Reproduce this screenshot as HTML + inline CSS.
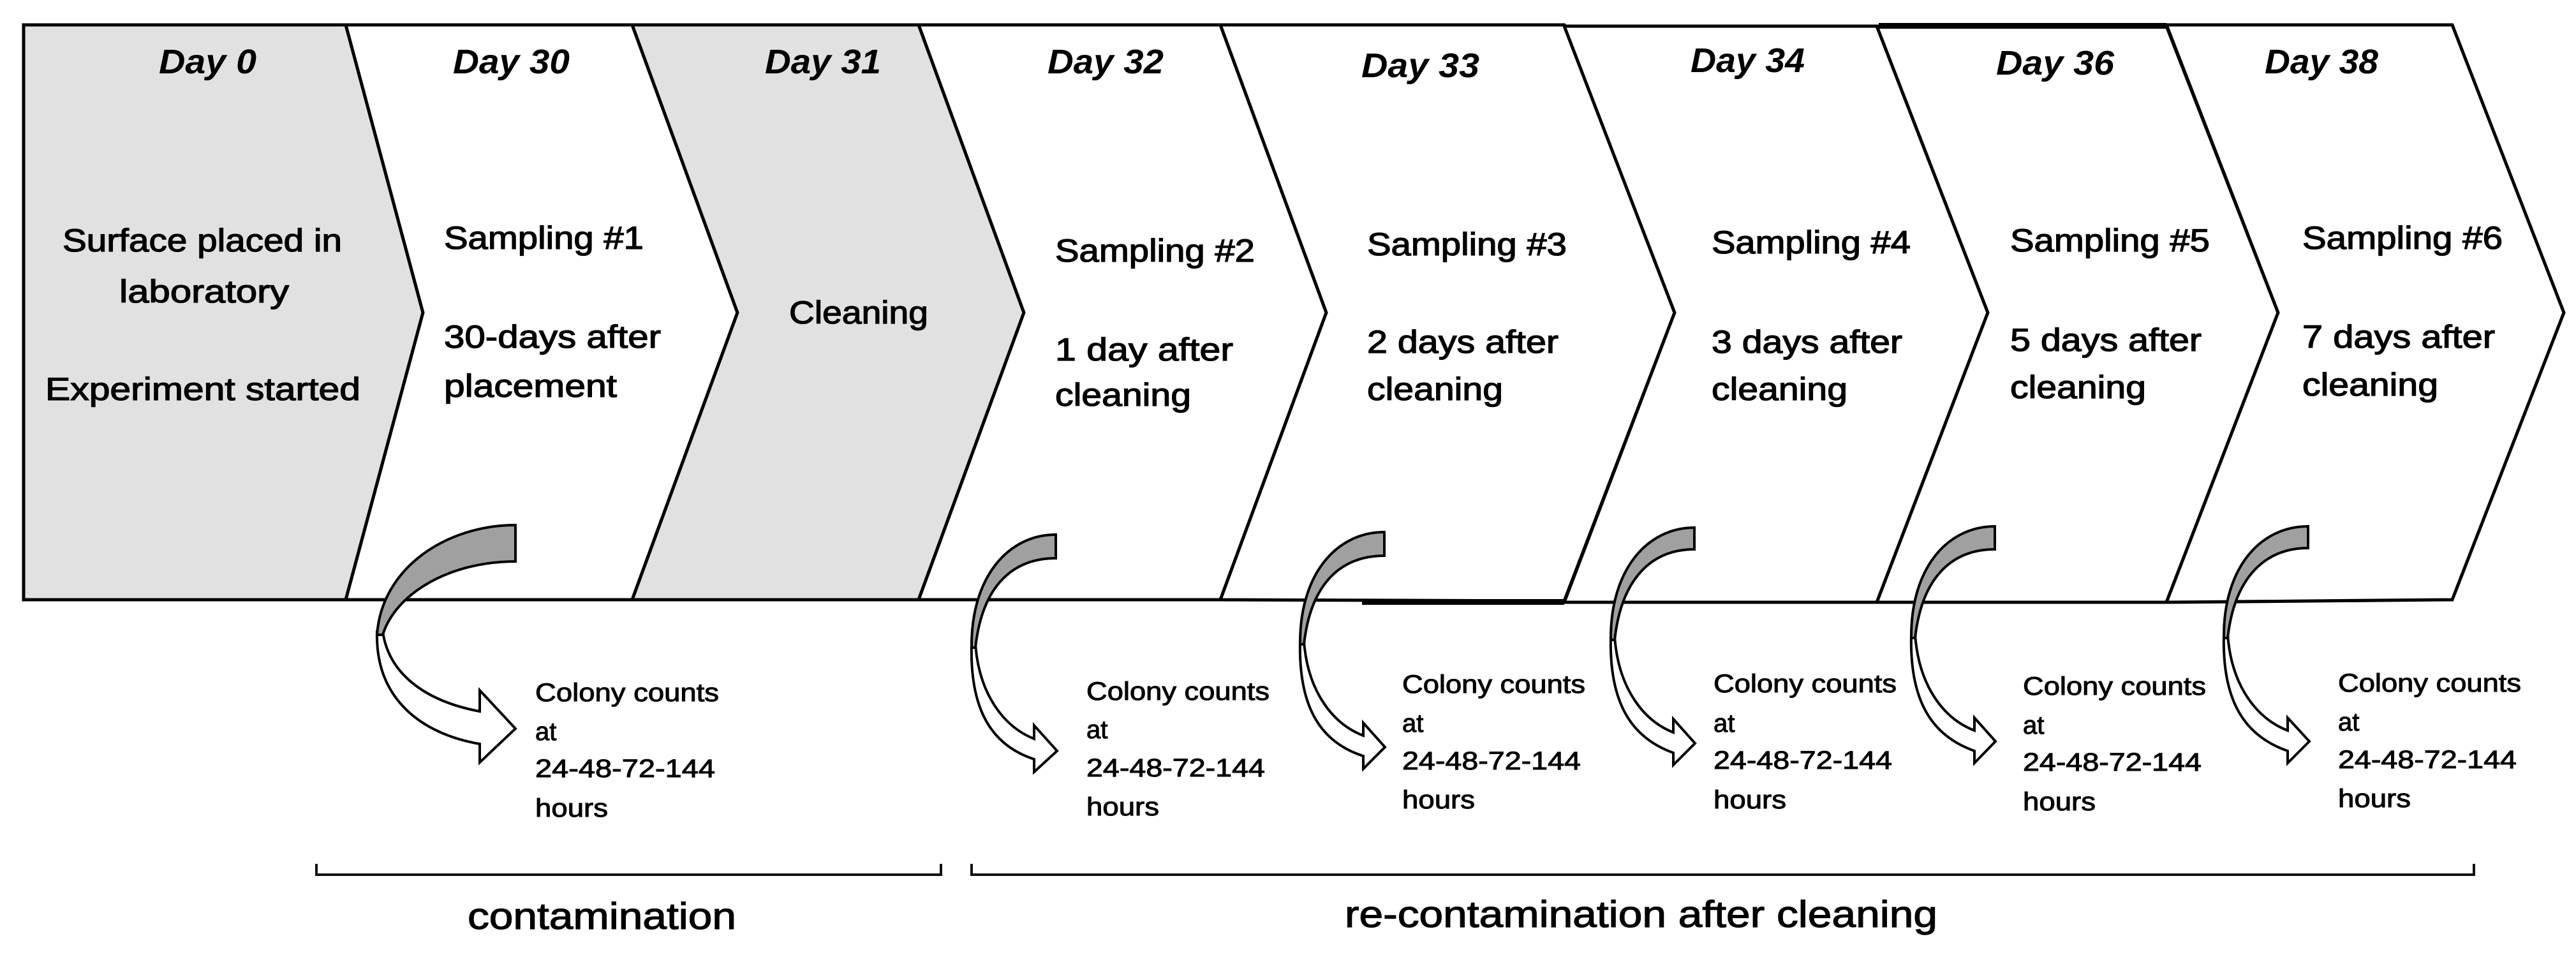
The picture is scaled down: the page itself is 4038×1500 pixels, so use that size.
<!DOCTYPE html>
<html><head><meta charset="utf-8"><style>
html,body{margin:0;padding:0;background:#fff;}
svg{display:block;}
text{font-family:"Liberation Sans",sans-serif;fill:#000;}
.d{font-weight:bold;font-style:italic;font-size:54px;}
.b{font-size:50px;stroke:#000;stroke-width:1.3px;}
.c{font-size:40px;stroke:#000;stroke-width:1px;}
.t{font-size:58px;stroke:#000;stroke-width:1.2px;}
</style></head><body>
<svg width="4038" height="1500" viewBox="0 0 4038 1500" xmlns="http://www.w3.org/2000/svg">
<g stroke="#000" stroke-width="5" stroke-linejoin="miter">
<polygon fill="#e1e1e1" points="37,39 542,39 663,490 542,940 37,940"/>
<polygon fill="#fff" points="542,39 991,39 1156,490 991,940 542,940 663,490"/>
<polygon fill="#e1e1e1" points="991,39 1440,39 1605,490 1440,940 991,940 1156,490"/>
<polygon fill="#fff" points="1440,39 1913,39 2079,490 1913,940 1440,940 1605,490"/>
<polygon fill="#fff" points="1913,39 2452,39 2625,490 2452,942 1913,940 2079,490"/>
<polygon fill="#fff" points="2452,41 2942,41 3116,490 2942,944 2452,944 2625,490"/>
<polygon fill="#fff" points="2942,41 3396,41 3571,490 3396,944 2942,944 3116,490"/>
<polygon fill="#fff" points="3396,39 3844,39 4019,490 3844,940 3396,944 3571,490"/>
</g>
<rect x="2135" y="939" width="317" height="9" fill="#000"/>
<rect x="2945" y="36" width="451" height="9" fill="#000"/>

<g id="arrows" stroke="#000" stroke-width="4" stroke-linejoin="miter">
<path fill="#fff" d="M591,990 C588,1095 660,1150 752,1166 L752,1195 L808,1142 L752,1082 L752,1115 C672,1100 610,1060 600,990 Z"/>
<path fill="#a0a0a0" d="M808,823 L808,880 C705,880 620,930 600,995 L591,995 C598,890 700,823 808,823 Z"/>

<path fill="#fff" d="M1523,1010 C1520,1120 1560,1170 1621,1190 L1621,1210 L1657,1177 L1621,1137 L1621,1158 C1575,1140 1535,1090 1529,1010 Z"/>
<path fill="#a0a0a0" d="M1655,838 L1655,875 C1590,875 1540,915 1529,1015 L1523,1015 C1522,905 1580,838 1655,838 Z"/>

<path fill="#fff" d="M2038,1005 C2035,1115 2075,1165 2137,1185 L2137,1205 L2171,1171 L2137,1133 L2137,1153 C2090,1135 2050,1085 2044,1005 Z"/>
<path fill="#a0a0a0" d="M2170,834 L2170,871 C2105,871 2055,911 2044,1010 L2038,1010 C2037,900 2095,834 2170,834 Z"/>

<path fill="#fff" d="M2525,998 C2522,1108 2562,1158 2623,1180 L2623,1199 L2657,1165 L2623,1127 L2623,1148 C2577,1130 2537,1080 2531,998 Z"/>
<path fill="#a0a0a0" d="M2656,827 L2656,861 C2592,861 2542,903 2531,1003 L2525,1003 C2524,893 2582,827 2656,827 Z"/>

<path fill="#fff" d="M2996,995 C2993,1105 3033,1155 3095,1177 L3095,1196 L3128,1162 L3095,1125 L3095,1145 C3048,1127 3008,1077 3002,995 Z"/>
<path fill="#a0a0a0" d="M3127,825 L3127,861 C3063,861 3013,901 3002,1000 L2996,1000 C2995,890 3053,825 3127,825 Z"/>

<path fill="#fff" d="M3486,995 C3483,1105 3523,1155 3586,1177 L3586,1196 L3620,1162 L3586,1125 L3586,1145 C3539,1127 3498,1077 3492,995 Z"/>
<path fill="#a0a0a0" d="M3618,825 L3618,859 C3554,859 3503,901 3492,1000 L3486,1000 C3485,890 3543,825 3618,825 Z"/>
</g>

<text class="d" x="249" y="115" textLength="153" lengthAdjust="spacingAndGlyphs">Day 0</text>
<text class="d" x="710" y="115" textLength="183" lengthAdjust="spacingAndGlyphs">Day 30</text>
<text class="d" x="1199" y="115" textLength="182" lengthAdjust="spacingAndGlyphs">Day 31</text>
<text class="d" x="1642" y="115" textLength="182" lengthAdjust="spacingAndGlyphs">Day 32</text>
<text class="d" x="2134" y="121" textLength="185" lengthAdjust="spacingAndGlyphs">Day 33</text>
<text class="d" x="2650" y="113" textLength="179" lengthAdjust="spacingAndGlyphs">Day 34</text>
<text class="d" x="3129" y="117" textLength="185" lengthAdjust="spacingAndGlyphs">Day 36</text>
<text class="d" x="3550" y="115" textLength="178" lengthAdjust="spacingAndGlyphs">Day 38</text>

<text class="b" x="98" y="394" textLength="438" lengthAdjust="spacingAndGlyphs">Surface placed in</text>
<text class="b" x="187" y="474" textLength="266" lengthAdjust="spacingAndGlyphs">laboratory</text>
<text class="b" x="71" y="627" textLength="494" lengthAdjust="spacingAndGlyphs">Experiment started</text>

<text class="b" x="696" y="390" textLength="313" lengthAdjust="spacingAndGlyphs">Sampling #1</text>
<text class="b" x="696" y="545" textLength="340" lengthAdjust="spacingAndGlyphs">30-days after</text>
<text class="b" x="696" y="622" textLength="271" lengthAdjust="spacingAndGlyphs">placement</text>

<text class="b" x="1237" y="507" textLength="218" lengthAdjust="spacingAndGlyphs">Cleaning</text>

<text class="b" x="1654" y="410" textLength="313" lengthAdjust="spacingAndGlyphs">Sampling #2</text>
<text class="b" x="1654" y="565" textLength="279" lengthAdjust="spacingAndGlyphs">1 day after</text>
<text class="b" x="1654" y="636" textLength="213" lengthAdjust="spacingAndGlyphs">cleaning</text>

<text class="b" x="2143" y="400" textLength="313" lengthAdjust="spacingAndGlyphs">Sampling #3</text>
<text class="b" x="2143" y="553" textLength="300" lengthAdjust="spacingAndGlyphs">2 days after</text>
<text class="b" x="2143" y="627" textLength="213" lengthAdjust="spacingAndGlyphs">cleaning</text>

<text class="b" x="2683" y="397" textLength="312" lengthAdjust="spacingAndGlyphs">Sampling #4</text>
<text class="b" x="2683" y="553" textLength="299" lengthAdjust="spacingAndGlyphs">3 days after</text>
<text class="b" x="2683" y="627" textLength="213" lengthAdjust="spacingAndGlyphs">cleaning</text>

<text class="b" x="3151" y="394" textLength="313" lengthAdjust="spacingAndGlyphs">Sampling #5</text>
<text class="b" x="3151" y="550" textLength="300" lengthAdjust="spacingAndGlyphs">5 days after</text>
<text class="b" x="3151" y="624" textLength="213" lengthAdjust="spacingAndGlyphs">cleaning</text>

<text class="b" x="3609" y="390" textLength="314" lengthAdjust="spacingAndGlyphs">Sampling #6</text>
<text class="b" x="3609" y="545" textLength="302" lengthAdjust="spacingAndGlyphs">7 days after</text>
<text class="b" x="3609" y="620" textLength="213" lengthAdjust="spacingAndGlyphs">cleaning</text>

<text class="c" x="839" y="1099" textLength="288" lengthAdjust="spacingAndGlyphs">Colony counts</text>
<text class="c" x="839" y="1160">at</text>
<text class="c" x="839" y="1218" textLength="282" lengthAdjust="spacingAndGlyphs">24-48-72-144</text>
<text class="c" x="839" y="1280" textLength="114" lengthAdjust="spacingAndGlyphs">hours</text>

<text class="c" x="1703" y="1097" textLength="287" lengthAdjust="spacingAndGlyphs">Colony counts</text>
<text class="c" x="1703" y="1157">at</text>
<text class="c" x="1703" y="1217" textLength="280" lengthAdjust="spacingAndGlyphs">24-48-72-144</text>
<text class="c" x="1703" y="1278" textLength="114" lengthAdjust="spacingAndGlyphs">hours</text>

<text class="c" x="2198" y="1086" textLength="287" lengthAdjust="spacingAndGlyphs">Colony counts</text>
<text class="c" x="2198" y="1147">at</text>
<text class="c" x="2198" y="1206" textLength="280" lengthAdjust="spacingAndGlyphs">24-48-72-144</text>
<text class="c" x="2198" y="1267" textLength="114" lengthAdjust="spacingAndGlyphs">hours</text>

<text class="c" x="2686" y="1085" textLength="287" lengthAdjust="spacingAndGlyphs">Colony counts</text>
<text class="c" x="2686" y="1147">at</text>
<text class="c" x="2686" y="1205" textLength="280" lengthAdjust="spacingAndGlyphs">24-48-72-144</text>
<text class="c" x="2686" y="1267" textLength="114" lengthAdjust="spacingAndGlyphs">hours</text>

<text class="c" x="3171" y="1089" textLength="287" lengthAdjust="spacingAndGlyphs">Colony counts</text>
<text class="c" x="3171" y="1150">at</text>
<text class="c" x="3171" y="1208" textLength="280" lengthAdjust="spacingAndGlyphs">24-48-72-144</text>
<text class="c" x="3171" y="1270" textLength="114" lengthAdjust="spacingAndGlyphs">hours</text>

<text class="c" x="3665" y="1084" textLength="287" lengthAdjust="spacingAndGlyphs">Colony counts</text>
<text class="c" x="3665" y="1145">at</text>
<text class="c" x="3665" y="1204" textLength="280" lengthAdjust="spacingAndGlyphs">24-48-72-144</text>
<text class="c" x="3665" y="1265" textLength="114" lengthAdjust="spacingAndGlyphs">hours</text>

<g fill="none" stroke="#111" stroke-width="4">
<path d="M496,1354 L496,1371 L1475,1371 L1475,1354"/>
<path d="M1523,1354 L1523,1371 L3878,1371 L3878,1354"/>
</g>
<text class="t" x="733" y="1456" textLength="421" lengthAdjust="spacingAndGlyphs">contamination</text>
<text class="t" x="2108" y="1453" textLength="929" lengthAdjust="spacingAndGlyphs">re-contamination after cleaning</text>
</svg>
</body></html>
